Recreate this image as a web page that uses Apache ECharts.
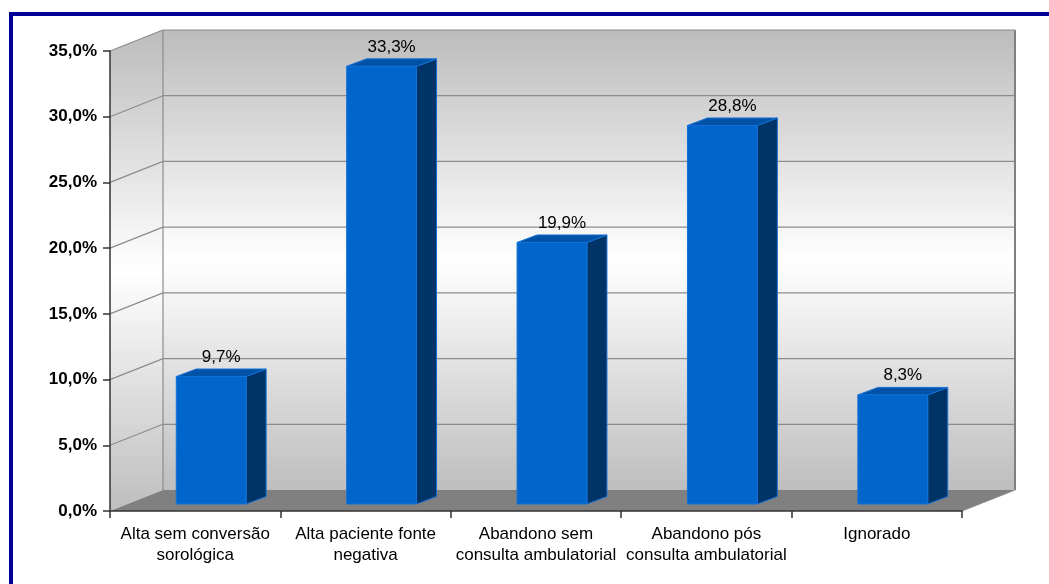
<!DOCTYPE html>
<html>
<head>
<meta charset="utf-8">
<script src="https://cdn.jsdelivr.net/npm/echarts@6/dist/echarts.min.js"></script>
<style>
html,body{margin:0;padding:0;background:#fff;}
#c{width:1049px;height:584px;}
</style>
</head>
<body>
<div id="c"></div>
<script>
const categories = [
  'Alta sem conversão\nsorológica',
  'Alta paciente fonte\nnegativa',
  'Abandono sem\nconsulta ambulatorial',
  'Abandono pós\nconsulta ambulatorial',
  'Ignorado'
];
const values = [9.7, 33.3, 19.9, 28.8, 8.3];
const yTicks = [0, 5, 10, 15, 20, 25, 30, 35];
const yMin = 0, yMax = 35, yInterval = 5;

const FONT = '"Liberation Sans", Arial, sans-serif';
// 3D projection offsets (pixels)
const DX = 53, DY = -21;          // full depth of walls
const BX0 = 16, BY0 = -7;         // bar front plane offset
const BDX = 20, BDY = -7.5;       // bar depth
const BAR_FRAC = 0.41;

const fmt = v => v.toFixed(1).replace('.', ',') + '%';

const chart = echarts.init(document.getElementById('c'), null, {renderer: 'canvas'});

function wallGrad() {
  return new echarts.graphic.LinearGradient(0, 0, 0, 1, [
    {offset: 0, color: '#bcbcbc'},
    {offset: 0.5, color: '#ffffff'},
    {offset: 1, color: '#bebebe'}
  ]);
}

function renderWalls(params, api) {
  const cs = params.coordSys;
  const x0 = cs.x, x1 = cs.x + cs.width, yT = cs.y, yB = cs.y + cs.height;
  const ch = [];
  ch.push({type: 'polygon', shape: {points: [[x0 + DX, yT + DY], [x1 + DX, yT + DY], [x1 + DX, yB + DY], [x0 + DX, yB + DY]]}, style: {fill: wallGrad()}});
  ch.push({type: 'polygon', shape: {points: [[x0, yT], [x0 + DX, yT + DY], [x0 + DX, yB + DY], [x0, yB]]}, style: {fill: wallGrad()}});
  ch.push({type: 'polygon', shape: {points: [[x0, yB], [x1, yB], [x1 + DX, yB + DY], [x0 + DX, yB + DY]]}, style: {fill: '#808080'}});
  const ls = {stroke: '#8c8c8c', lineWidth: 1.2};
  yTicks.forEach(t => {
    if (t === yMin) return;
    const y = api.coord([0, t])[1];
    ch.push({type: 'line', shape: {x1: x0, y1: y, x2: x0 + DX, y2: y + DY}, style: ls});
    ch.push({type: 'line', shape: {x1: x0 + DX, y1: y + DY, x2: x1 + DX, y2: y + DY}, style: ls});
  });
  ch.push({type: 'line', shape: {x1: x0 + DX, y1: yT + DY, x2: x0 + DX, y2: yB + DY}, style: ls});
  ch.push({type: 'line', shape: {x1: x1 + DX, y1: yT + DY, x2: x1 + DX, y2: yB + DY}, style: {stroke: '#808080', lineWidth: 2}});
  ch.push({type: 'line', shape: {x1: x1, y1: yB, x2: x1 + DX, y2: yB + DY}, style: {stroke: '#8c8c8c', lineWidth: 1}});
  return {type: 'group', children: ch};
}

function renderBar(params, api) {
  const idx = api.value(0), v = api.value(1);
  const base = api.coord([idx, 0]);
  const top = api.coord([idx, v]);
  const w = api.size([1, 0])[0] * BAR_FRAC;
  const xl = base[0] - w / 2 + BX0, xr = base[0] + w / 2 + BX0;
  const yb = base[1] + BY0, yt = top[1] + BY0;
  const edge = '#1570d6';
  return {type: 'group', children: [
    {type: 'polygon', shape: {points: [[xr, yt], [xr + BDX, yt + BDY], [xr + BDX, yb + BDY], [xr, yb]]}, style: {fill: '#003366', stroke: edge, lineWidth: 1}},
    {type: 'polygon', shape: {points: [[xl, yt], [xl + BDX, yt + BDY], [xr + BDX, yt + BDY], [xr, yt]]}, style: {fill: '#0052a6', stroke: edge, lineWidth: 1}},
    {type: 'rect', shape: {x: xl, y: yt, width: xr - xl, height: yb - yt}, style: {fill: '#0066cc', stroke: edge, lineWidth: 1}},
    {type: 'text', style: {text: fmt(v), x: (xl + xr) / 2 + BDX / 2, y: yt + BDY - 12, align: 'center', verticalAlign: 'middle', textAlign: 'center', textVerticalAlign: 'middle', fill: '#000', font: '17px ' + FONT}}
  ]};
}

chart.setOption({
  animation: false,
  backgroundColor: '#ffffff',
  textStyle: {fontFamily: FONT},
  graphic: [{
    type: 'rect', z: -10, silent: true,
    shape: {x: 11, y: 14, width: 1200, height: 700},
    style: {fill: 'none', stroke: '#000099', lineWidth: 4}
  }],
  grid: {left: 110, right: 87, top: 51, bottom: 73, containLabel: false},
  xAxis: {
    type: 'category', data: categories, z: 10,
    axisLine: {show: true, lineStyle: {color: '#333', width: 1.5}},
    axisTick: {show: true, length: 7, lineStyle: {color: '#333', width: 1.5}},
    axisLabel: {interval: 0, fontSize: 17, color: '#000', lineHeight: 21, margin: 13, fontFamily: FONT},
    splitLine: {show: false}
  },
  yAxis: {
    type: 'value', min: yMin, max: yMax, interval: yInterval, z: 10,
    axisLine: {show: true, lineStyle: {color: '#333', width: 1.5}},
    axisTick: {show: true, length: 7, lineStyle: {color: '#333', width: 1.5}},
    axisLabel: {formatter: fmt, fontSize: 17, fontWeight: 'bold', color: '#000', margin: 13, fontFamily: FONT},
    splitLine: {show: false}
  },
  series: [
    {type: 'custom', silent: true, z: 1, renderItem: renderWalls, data: [[0, 0]]},
    {type: 'custom', silent: true, z: 3, renderItem: renderBar, data: values.map((v, i) => [i, v])}
  ]
});
</script>
</body>
</html>
